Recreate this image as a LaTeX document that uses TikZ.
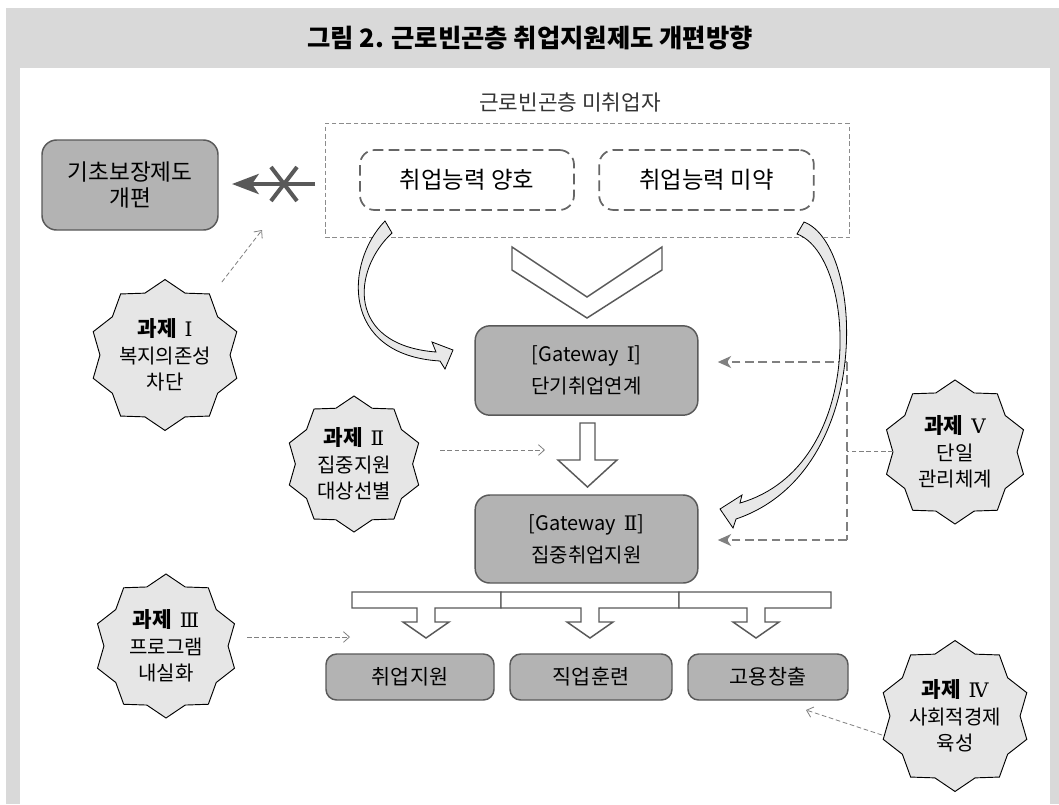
\documentclass[tikz,border=0pt]{standalone}
\usepackage{fontspec}
\setmainfont{Noto Sans CJK KR}
\newfontfamily\rmn{DejaVu Serif}
\usetikzlibrary{shapes.geometric,arrows.meta}
\definecolor{framegray}{HTML}{D9D9D9}
\definecolor{boxgray}{HTML}{B3B3B3}
\definecolor{bordergray}{HTML}{595959}
\definecolor{stargray}{HTML}{E6E6E6}
\definecolor{dashgray}{HTML}{808080}
\definecolor{dashdark}{HTML}{666666}
\definecolor{lightdash}{HTML}{8C8C8C}
\definecolor{ribbongray}{HTML}{E8E8E8}
\definecolor{textgray}{HTML}{333333}
\begin{document}
\begin{tikzpicture}[x=0.75pt,y=-0.75pt,
  every node/.style={inner sep=0pt,outer sep=0pt},
  graybox/.style={draw=bordergray,fill=boxgray,line width=1.1pt,rounded corners=11pt,align=center},
  dashbox/.style={draw=dashdark,line width=1.3pt,dash pattern=on 8pt off 4pt,rounded corners=11pt,align=center},
  groupbox/.style={draw=lightdash,line width=0.6pt,dash pattern=on 3.5pt off 2pt},
  taskstar/.style={star,star points=10,star point ratio=1.16,fill=stargray,draw=black,line width=0.7pt,align=center,minimum size=108pt,font=\fontsize{15}{20}\selectfont},
  taskarrow/.style={draw=dashgray,line width=0.6pt,dash pattern=on 3.5pt off 2pt,-{Straight Barb[length=4.5pt,width=8pt]}},
  linkline/.style={draw=dashgray,line width=1.1pt,dash pattern=on 6.5pt off 3.5pt},
  linkarrow/.style={linkline,-{Stealth[length=10pt,width=9pt,inset=3pt]}},
  hollow/.style={draw=bordergray,fill=white,line width=1.1pt,line join=miter},
  ribbon/.style={draw=black,fill=ribbongray,line width=0.6pt},
  xline/.style={draw=bordergray,line width=3pt}
]
\useasboundingbox (0,0) rectangle (1059,804);
\fill[framegray] (6,8) rectangle (1059,804);
\fill[white] (20,68) rectangle (1050,804);

\node[font=\fontsize{19}{22}\selectfont\bfseries] (title) at (530,38) {그림 2. 근로빈곤층 취업지원제도 개편방향};

% top group
\node[font=\fontsize{16}{18}\selectfont,text=textgray] (sub) at (570,102) {근로빈곤층 미취업자};
\node[groupbox,minimum width=393pt,minimum height=86pt] (grp) at (587,180.5) {};
\node[dashbox,minimum width=160.5pt,minimum height=45pt,font=\fontsize{17.5}{20}\selectfont] (good) at (467,180) {취업능력 양호};
\node[dashbox,minimum width=161pt,minimum height=45pt,font=\fontsize{17.5}{20}\selectfont] (weak) at (706.5,180) {취업능력 미약};

% left box
\node[graybox,minimum width=132pt,minimum height=67.5pt,font=\fontsize{17}{19.5}\selectfont] (lb) at (130,185) {기초보장제도\\개편};
\coordinate (xs) at (315,184);
\draw[bordergray,line width=3pt,shorten >=10.5pt,-{Stealth[length=20pt,width=15pt,inset=5pt]}] (xs) -- (lb.east |- xs);
\draw[xline] (271,167) -- (297,201);
\draw[xline] (271,201) -- (297,167);

% chevron
\draw[hollow,fill=white] (512,247) -- (587,297) -- (662,247) -- (662,270) -- (587,318) -- (512,270) -- cycle;

% gateways
\node[graybox,minimum width=167pt,minimum height=67pt,font=\fontsize{15}{24}\selectfont] (gw1) at (586.5,370.5) {[Gateway \,{\rmn Ⅰ}]\\단기취업연계};
\node[graybox,minimum width=167pt,minimum height=66pt,font=\fontsize{15}{24}\selectfont] (gw2) at (586.5,539) {[Gateway \,{\rmn Ⅱ}]\\집중취업지원};

% arrow between gateways
\draw[hollow] (580,423) -- (595,423) -- (595,460) -- (617,460) -- (587.5,487) -- (558,460) -- (580,460) -- cycle;

% distribution bar with arrows
\draw[hollow] (352,592) -- (501,592) -- (501,608) -- (435,608) -- (435,622) -- (449,622) -- (426,638) -- (403,622) -- (417,622) -- (417,608) -- (352,608) -- cycle;
\draw[hollow] (501,592) -- (679,592) -- (679,608) -- (599,608) -- (599,622) -- (613,622) -- (590,638) -- (567,622) -- (581,622) -- (581,608) -- (501,608) -- cycle;
\draw[hollow] (679,592) -- (831,592) -- (831,608) -- (765,608) -- (765,622) -- (779,622) -- (756,638) -- (733,622) -- (747,622) -- (747,608) -- (679,608) -- cycle;

% bottom boxes
\node[graybox,rounded corners=8pt,minimum width=126pt,minimum height=34.5pt,font=\fontsize{15.5}{18}\selectfont] (b1) at (410,677) {취업지원};
\node[graybox,rounded corners=8pt,minimum width=121.5pt,minimum height=34.5pt,font=\fontsize{15.5}{18}\selectfont] (b2) at (591,677) {직업훈련};
\node[graybox,rounded corners=8pt,minimum width=120pt,minimum height=34.5pt,font=\fontsize{15.5}{18}\selectfont] (b3) at (768,677) {고용창출};

% task stars
\node[taskstar] (t1) at (165,355) {\textbf{\fontsize{16}{20}\selectfont 과제} \,{\rmn Ⅰ}\\복지의존성\\차단};
\node[taskstar,minimum size=102pt] (t2) at (354,464) {\textbf{\fontsize{16}{20}\selectfont 과제} \,{\rmn Ⅱ}\\집중지원\\대상선별};
\node[taskstar] (t3) at (166,646) {\textbf{\fontsize{16}{20}\selectfont 과제} \,{\rmn Ⅲ}\\프로그램\\내실화};
\node[taskstar] (t5) at (955,452) {\textbf{\fontsize{16}{20}\selectfont 과제} \,{\rmn Ⅴ}\\단일\\관리체계};
\node[taskstar] (t4) at (955,716) {\textbf{\fontsize{16}{20}\selectfont 과제} \,{\rmn Ⅳ}\\사회적경제\\육성};

% task arrows
\coordinate (t1e) at (262,230);
\draw[taskarrow,shorten <=14pt] (t1.52) -- (t1e);
\coordinate (t2s) at (440,450);
\coordinate (t2e) at (545,450);
\draw[taskarrow] (t2s) -- (t2e);
\coordinate (t3s) at (247,637);
\coordinate (t3e) at (350,637);
\draw[taskarrow] (t3s) -- (t3e);
\coordinate (t4s) at (882,735);
\coordinate (t4e) at (806,710);
\draw[taskarrow] (t4s) -- (t4e);

% task V links
\coordinate (j1) at (847,362);
\coordinate (j2) at (847,540);
\coordinate (jm) at (847,451);
\draw[linkline] (j1) -- (j2);
\draw[draw=dashgray,line width=0.6pt,dash pattern=on 3.5pt off 2pt] (t5.west |- jm) -- (jm);
\draw[linkarrow,shorten >=15pt] (j1) -- (gw1.east |- j1);
\draw[linkarrow,shorten >=15pt] (j2) -- (gw2.east |- j2);

% curved ribbons
\filldraw[ribbon] (385,221) .. controls (345,262) and (340,355) .. (440,361) -- (445,369) -- (453,350) -- (432,342) -- (436,352) .. controls (346,345) and (352,270) .. (392,233) -- cycle;
\filldraw[ribbon] (804,222) .. controls (865,245) and (875,472) .. (736,519) -- (733,528) -- (720,509) -- (742,495) -- (740,503) .. controls (868,466) and (857,256) .. (797,234) -- cycle;
\end{tikzpicture}
\end{document}
